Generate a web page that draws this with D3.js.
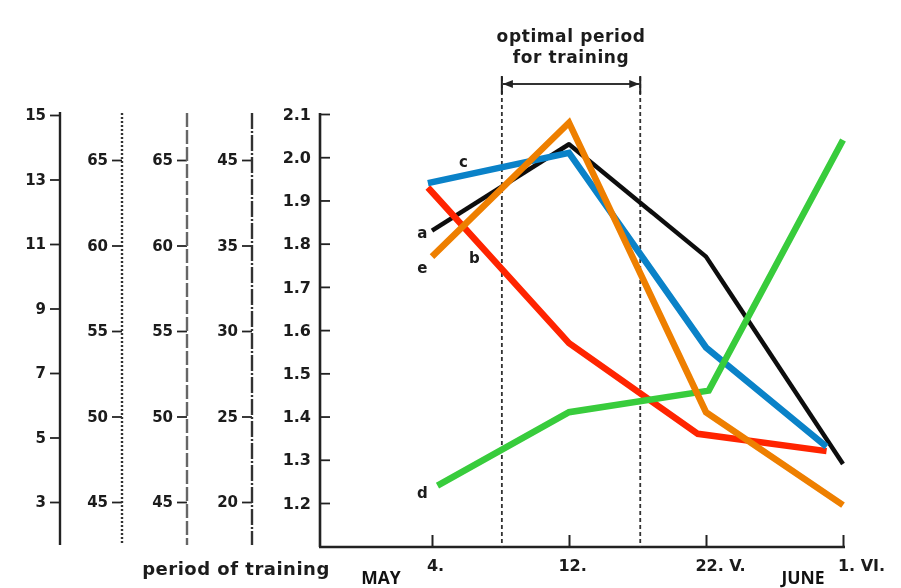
<!DOCTYPE html>
<html>
<head>
<meta charset="utf-8">
<script src="https://cdn.jsdelivr.net/npm/d3@7"></script>
<style>
  html, body { margin: 0; padding: 0; background: #fff; }
  svg { display: block; }
  .scan text { font-family: "DejaVu Sans", "Liberation Sans", sans-serif; font-weight: bold; fill: #1a1a1a; }
  .note { font-family: "Open Sans", "Noto Sans", sans-serif; font-weight: bold; fill: #111; }
</style>
</head>
<body>
<svg id="chart" width="901" height="588"></svg>
<script>
// Sampling dates (equally spaced on the time axis)
const dates = ["4.", "12.", "22. V.", "1. VI."];
const dateIndex = [0, 1, 2, 3];

// Main scale ticks
const mainTicks = [1.2, 1.3, 1.4, 1.5, 1.6, 1.7, 1.8, 1.9, 2.0, 2.1];

// Auxiliary scales on the left
const aux1Ticks = [3, 5, 7, 9, 11, 13, 15];
const aux2Ticks = [45, 50, 55, 60, 65];
const aux3Ticks = [45, 50, 55, 60, 65];
const aux4Ticks = [20, 25, 30, 35, 40];
const aux4Labels = ["20", "25", "30", "35", "45"];

// Curves: [date position, value]
const seriesA = [[0, 1.83], [1, 2.03], [2, 1.77], [3, 1.29]];
const seriesRed = [[-0.03, 1.93], [1, 1.57], [1.94, 1.36], [2.88, 1.32]];
const seriesBlue = [[-0.03, 1.94], [1, 2.01], [2, 1.56], [2.88, 1.33]];
const seriesGreen = [[0.04, 1.24], [1, 1.41], [2.02, 1.46], [3, 2.04]];
const seriesOrange = [[0, 1.77], [1, 2.08], [2, 1.41], [3, 1.195]];

// Curve letters: [letter, date position, value]
const curveLetters = [
  ["c", 0.23, 1.99],
  ["a", -0.07, 1.825],
  ["e", -0.07, 1.745],
  ["b", 0.31, 1.767],
  ["d", -0.07, 1.223]
];

// Optimal training window (date positions)
const optimalPeriod = [0.51, 1.52];

const svg = d3.select("#chart");

const defs = svg.append("defs");
defs.append("filter").attr("id", "soft")
  .attr("x", "-5%").attr("y", "-5%").attr("width", "110%").attr("height", "110%")
  .append("feGaussianBlur").attr("stdDeviation", 0.75);

// Scales
const x = d3.scaleLinear().domain([0, 3]).range([432, 843]);
const y = d3.scaleLinear().domain([1.2, 2.1]).range([503, 114]);
const yAux1 = d3.scaleLinear().domain([3, 15]).range([502, 115]);
const yAux2 = d3.scaleLinear().domain([45, 65]).range([502, 160]);
const yAux3 = d3.scaleLinear().domain([45, 65]).range([502, 160]);
const yAux4 = d3.scaleLinear().domain([20, 40]).range([502, 160]);

const plotLeft = 320, plotBottom = 547, plotRight = 845;
const tickFont = g => g.selectAll(".tick text")
  .attr("fill", "#1a1a1a")
  .style("font-family", "DejaVu Sans, Liberation Sans, sans-serif")
  .style("font-weight", "bold");

const scan = svg.append("g").attr("class", "scan").attr("filter", "url(#soft)");

// Left auxiliary axes
const auxAxes = [
  { x: 60, scale: yAux1, ticks: aux1Ticks, labels: null, dash: null, color: "#222", top: 112 },
  { x: 122, scale: yAux2, ticks: aux2Ticks, labels: null, dash: "2,2", color: "#333", top: 113 },
  { x: 187, scale: yAux3, ticks: aux3Ticks, labels: null, dash: "14,3", color: "#666", top: 113 },
  { x: 252, scale: yAux4, ticks: aux4Ticks, labels: aux4Labels, dash: "16,2,2,2", color: "#333", top: 113 }
];
auxAxes.forEach(a => {
  const g = scan.append("g").attr("transform", `translate(${a.x},0)`);
  const ax = d3.axisLeft(a.scale).tickValues(a.ticks).tickSizeInner(10).tickSizeOuter(0).tickPadding(4)
    .tickFormat((d, i) => a.labels ? a.labels[i] : d3.format("d")(d));
  g.call(ax);
  g.select(".domain").remove();
  g.selectAll(".tick line").attr("stroke", "#222").attr("stroke-width", 1.8);
  tickFont(g);
  g.selectAll(".tick text").attr("font-size", 15);
  g.append("line").attr("x1", 0).attr("x2", 0).attr("y1", a.top).attr("y2", 545)
    .attr("stroke", a.color).attr("stroke-width", 2.4)
    .attr("stroke-dasharray", a.dash);
});

// Main value axis (ticks point into the plot)
const gy = scan.append("g").attr("transform", `translate(${plotLeft},0)`);
gy.call(d3.axisLeft(y).tickValues(mainTicks).tickSizeInner(-10).tickSizeOuter(0).tickPadding(9)
  .tickFormat(d3.format(".1f")));
gy.select(".domain").remove();
gy.selectAll(".tick line").attr("stroke", "#222").attr("stroke-width", 1.8);
tickFont(gy);
gy.selectAll(".tick text").attr("font-size", 16);
gy.append("line").attr("x1", 0).attr("x2", 0).attr("y1", 113).attr("y2", plotBottom)
  .attr("stroke", "#222").attr("stroke-width", 2.6);

// Date axis (ticks point up)
const gx = scan.append("g").attr("transform", `translate(0,${plotBottom})`);
gx.call(d3.axisBottom(x).tickValues(dateIndex).tickSizeInner(-12).tickSizeOuter(0).tickPadding(13)
  .tickFormat((d, i) => dates[i]));
gx.select(".domain").remove();
gx.selectAll(".tick line").attr("stroke", "#222").attr("stroke-width", 2);
tickFont(gx);
gx.selectAll(".tick text").attr("font-size", 16)
  .attr("text-anchor", "start")
  .each(function(d, i) {
    // centre the day number on its tick
    const num = dates[i].split(".")[0];
    const t = d3.select(this);
    t.text(num);
    const w = this.getComputedTextLength();
    t.text(dates[i]).attr("x", -w / 2);
  });
gx.append("line").attr("x1", plotLeft - 1).attr("x2", plotRight).attr("y1", 0).attr("y2", 0)
  .attr("stroke", "#222").attr("stroke-width", 2.6);

// Optimal period bracket
optimalPeriod.forEach(p => {
  scan.append("line").attr("x1", x(p)).attr("x2", x(p)).attr("y1", 77).attr("y2", plotBottom)
    .attr("stroke", "#333").attr("stroke-width", 1.8).attr("stroke-dasharray", "4,3");
  scan.append("line").attr("x1", x(p)).attr("x2", x(p)).attr("y1", 76).attr("y2", 94)
    .attr("stroke", "#222").attr("stroke-width", 2);
});
const bx0 = x(optimalPeriod[0]), bx1 = x(optimalPeriod[1]);
scan.append("line").attr("x1", bx0).attr("x2", bx1).attr("y1", 84).attr("y2", 84)
  .attr("stroke", "#333").attr("stroke-width", 2);
// arrowheads pointing out towards the end bars
scan.append("path").attr("d", `M${bx0 + 1},84 L${bx0 + 11},80 L${bx0 + 11},88 Z`).attr("fill", "#222");
scan.append("path").attr("d", `M${bx1 - 1},84 L${bx1 - 11},80 L${bx1 - 11},88 Z`).attr("fill", "#222");

const midX = (bx0 + bx1) / 2;
scan.append("text").attr("x", midX).attr("y", 42).attr("text-anchor", "middle")
  .attr("font-size", 17).attr("letter-spacing", 0.6).text("optimal period");
scan.append("text").attr("x", midX).attr("y", 63).attr("text-anchor", "middle")
  .attr("font-size", 17).attr("letter-spacing", 0.6).text("for training");

// Bottom caption of the left scales
scan.append("text").attr("x", 236).attr("y", 575).attr("text-anchor", "middle")
  .attr("font-size", 18).attr("letter-spacing", 0.5).text("period of training");

// Curve a (black)
const line = d3.line().x(d => x(d[0])).y(d => y(d[1]));
scan.append("path").datum(seriesA).attr("d", line)
  .attr("fill", "none").attr("stroke", "#111").attr("stroke-width", 4.5)
  .attr("stroke-linejoin", "round");

// Curve letters
curveLetters.forEach(([t, px, v]) => {
  scan.append("text").attr("x", x(px)).attr("y", y(v)).attr("dy", "0.35em")
    .attr("text-anchor", "middle").attr("font-size", 15).text(t);
});

// Coloured curves
const coloured = [
  { data: seriesRed, color: "#ff2400" },
  { data: seriesBlue, color: "#0a82c8" },
  { data: seriesGreen, color: "#38cc3c" },
  { data: seriesOrange, color: "#ee7f00" }
];
coloured.forEach(s => {
  svg.append("path").datum(s.data).attr("d", line)
    .attr("fill", "none").attr("stroke", s.color).attr("stroke-width", 6.5)
    .attr("stroke-linejoin", "miter");
});

// Month names
svg.append("text").attr("class", "note").attr("x", 381).attr("y", 584)
  .attr("text-anchor", "middle").attr("font-size", 17.5).text("MAY");
svg.append("text").attr("class", "note").attr("x", 803).attr("y", 584)
  .attr("text-anchor", "middle").attr("font-size", 17.5).text("JUNE");
</script>
</body>
</html>
